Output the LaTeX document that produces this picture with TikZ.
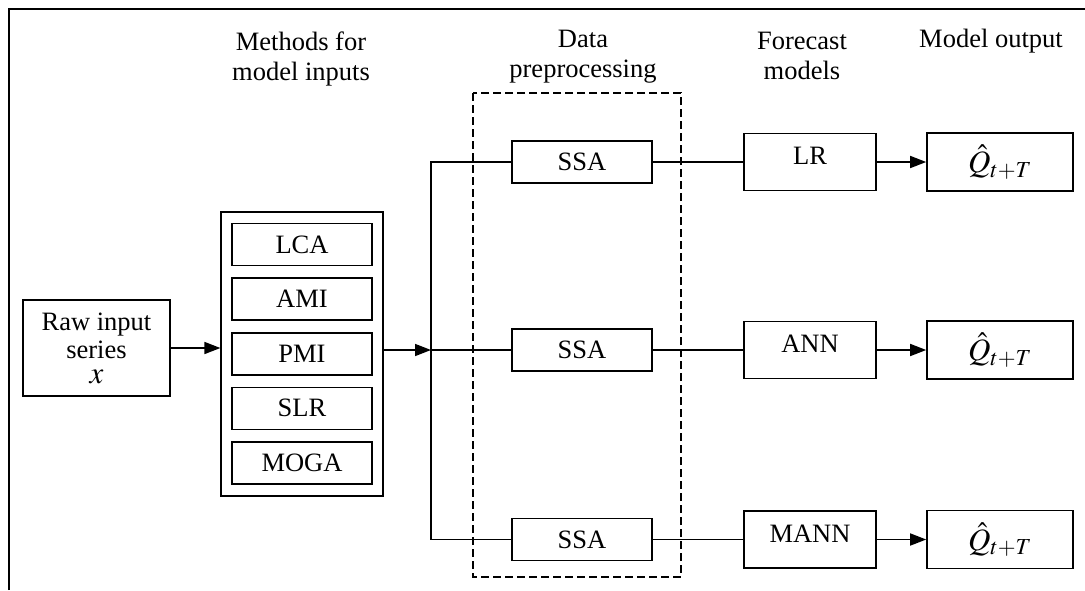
\documentclass[tikz,border=0pt]{standalone}
\usepackage{mathptmx}
\usepackage{fontspec}
\setmainfont{Liberation Serif}
\usetikzlibrary{positioning,fit,arrows.meta}

\begin{document}
\begin{tikzpicture}[x=1pt, y=-1pt, line width=1.6pt,
    font=\fontsize{26.5}{30}\selectfont,
    box/.style={draw, inner sep=0pt, minimum width=140pt, minimum height=42pt},
    fbox/.style={draw, inner sep=0pt, minimum width=132pt, text height=31pt, text depth=26pt},
    qbox/.style={draw, inner sep=0pt, minimum width=146pt, minimum height=58pt,
      font=\fontsize{31}{34}\selectfont},
    head/.style={align=center},
    arr/.style={-{Triangle[length=16pt, width=12pt]}}]
    \useasboundingbox (0,0) rectangle (1085,590);
    \draw (9,590) -- (9,9) -- (1085,9);
    % column titles
    \node[head] (hmeth) at (301,59) {Methods for\\model inputs};
    \node[head] (hdata) at (583,57) {Data\\preprocessing};
    \node[head] (hfore) at (802,56) {Forecast\\models};
    \node (hout) at (991,41) {Model output};
    % inputs
    \node[draw, align=center, inner sep=0pt, minimum width=147pt, minimum height=96pt,
      font=\fontsize{26.5}{28}\selectfont] (raw) at (96.5,348)
      {Raw input\\series\\[-3pt]{\fontsize{31}{31}\selectfont$x$}};
    \node[box] (lca) at (302,244.5) {LCA};
    \node[box, below=11pt of lca] (ami) {AMI};
    \node[box, below=11pt of ami] (pmi) {PMI};
    \node[box, below=11pt of pmi] (slr) {SLR};
    \node[box, below=11pt of slr] (moga) {MOGA};
    \node[draw, fit=(lca)(moga), inner xsep=10pt, inner ysep=11pt] (meth) {};
    % preprocessing
    \draw[dashed, dash pattern=on 8pt off 4pt] (473,93) rectangle (681,577);
    \node[box] (ssa1) at (582,162) {SSA};
    \node[box] (ssa2) at (582,350) {SSA};
    \node[box] (ssa3) at (582,539.5) {SSA};
    % models and outputs
    \node[fbox] (lr) at (810,162) {LR};
    \node[fbox] (ann) at (810,350) {ANN};
    \node[fbox] (mann) at (810,539.5) {MANN};
    \node[qbox] (q1) at (1000,162) {$\hat{Q}_{t+T}$};
    \node[qbox] (q2) at (1000,350) {$\hat{Q}_{t+T}$};
    \node[qbox] (q3) at (1000,539.5) {$\hat{Q}_{t+T}$};
    \coordinate (jn) at (431,350);
    \draw[arr] (raw.east) -- (raw.east -| meth.west);
    \draw[arr] (meth.east |- jn) -- (jn);
    \draw (ssa1.west) -| (jn |- ssa3.west) -- (ssa3.west);
    \draw (jn) -- (ssa2.west);
    \draw (ssa1) -- (lr);
    \draw (ssa2) -- (ann);
    \draw (ssa3) -- (mann);
    \draw[arr] (lr) -- (q1);
    \draw[arr] (ann) -- (q2);
    \draw[arr] (mann) -- (q3);
\end{tikzpicture}
\end{document}
